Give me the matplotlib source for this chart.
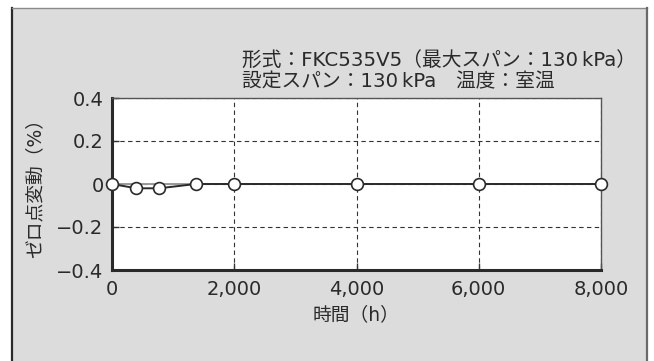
import matplotlib
matplotlib.use("Agg")
import matplotlib.pyplot as plt
from matplotlib.patches import Rectangle
from matplotlib.lines import Line2D
from matplotlib.ticker import FuncFormatter

plt.rcParams['font.family'] = ['DejaVu Sans', 'Noto Sans CJK JP']

# Zero-point drift over time
hours = [0, 400, 770, 1370, 2000, 4000, 6000, 8000]
drift = [0.0, -0.02, -0.02, 0.0, 0.0, 0.0, 0.0, 0.0]

x_ticks = [0, 2000, 4000, 6000, 8000]
y_ticks = [-0.4, -0.2, 0, 0.2, 0.4]

title_lines = ["形式：FKC535V5（最大スパン：130\u2009kPa）",
               "設定スパン：130\u2009kPa　温度：室温"]
x_label = "時間（h）"
y_label = "ゼロ点変動（%）"

W, H = 654, 361
fig = plt.figure(figsize=(W / 100, H / 100), dpi=100)
fig.patch.set_facecolor("white")

# Gray panel with a frame on the left, top and right
fig.patches.append(Rectangle((12 / W, 0), (647 - 12) / W, (H - 8) / H,
                             transform=fig.transFigure, facecolor="#dcdcdc",
                             edgecolor="none", zorder=-5))
fig.lines.append(Line2D([12 / W, 12 / W], [0, 1 - 8 / H], transform=fig.transFigure,
                        color="#2a2a2a", lw=1.6, zorder=-4))
fig.lines.append(Line2D([12 / W, 647 / W], [1 - 8 / H, 1 - 8 / H], transform=fig.transFigure,
                        color="#8a8a8a", lw=1.0, zorder=-4))
fig.lines.append(Line2D([647 / W, 647 / W], [0, 1 - 8 / H], transform=fig.transFigure,
                        color="#6a6a6a", lw=1.6, zorder=-4))

ax = fig.add_axes([112 / W, 1 - 270 / H, (601 - 112) / W, (270 - 98) / H])
ax.set_zorder(2)
ax.set_facecolor("white")

ax.set_xlim(0, 8000)
ax.set_ylim(-0.4, 0.4)
ax.set_xticks(x_ticks)
ax.set_yticks(y_ticks)

ax.xaxis.set_major_formatter(FuncFormatter(lambda v, p: f"{int(v):,}"))
def yfmt(v, p):
    if abs(v) < 1e-9:
        return "0"
    s = f"{abs(v):.1f}"
    return ("\u2212" if v < 0 else "") + s
ax.yaxis.set_major_formatter(FuncFormatter(yfmt))

for s in ["left", "bottom"]:
    ax.spines[s].set_color("#2a2a2a")
    ax.spines[s].set_linewidth(2.2)
for s in ["top", "right"]:
    ax.spines[s].set_color("#555555")
    ax.spines[s].set_linewidth(1.0)

ax.tick_params(axis="both", direction="in", length=5, width=1, color="#333333",
               labelsize=14, labelcolor="#2a2a2a")
ax.tick_params(axis="y", pad=6)
ax.tick_params(axis="x", pad=7)

ax.grid(True, linestyle=(0, (4, 3)), color="#333333", linewidth=0.8)
ax.set_axisbelow(True)

ax.axhline(0, color="#9a9a9a", lw=1.4, zorder=2)
ax.plot(hours, drift, color="#2a2a2a", lw=1.4, marker="o", markersize=8.5,
        markerfacecolor="white", markeredgecolor="#2a2a2a", markeredgewidth=1.2,
        zorder=3, clip_on=False)

ax.set_xlabel(x_label, fontsize=13.5, color="#2a2a2a", labelpad=5)
ax.set_ylabel(y_label, fontsize=13.5, color="#2a2a2a", labelpad=9)

fig.text(242 / W, 1 - 60 / H, title_lines[0], fontsize=14.2, color="#2a2a2a",
         ha="left", va="center")
fig.text(242 / W, 1 - 82 / H, title_lines[1], fontsize=14.2, color="#2a2a2a",
         ha="left", va="center")

fig.savefig("out.png", dpi=100, facecolor=fig.get_facecolor())
